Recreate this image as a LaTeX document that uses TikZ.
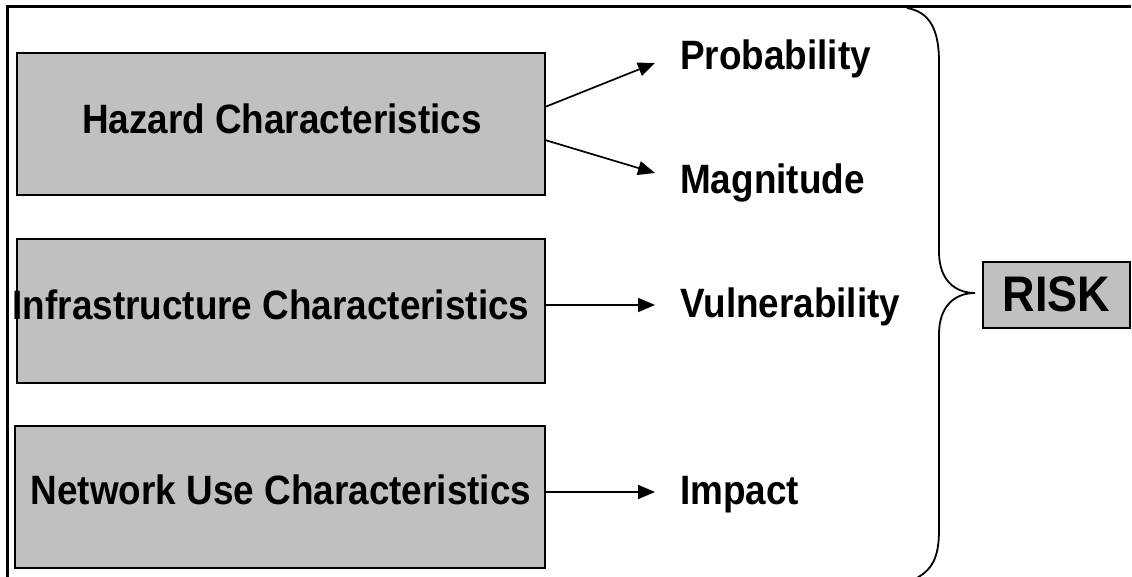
\documentclass[tikz,border=0pt]{standalone}
\usepackage{fontspec}
\setmainfont{Liberation Sans}[FakeStretch=0.9]
\usetikzlibrary{arrows.meta,calc}
\definecolor{boxgray}{HTML}{C0C0C0}
\begin{document}
\begin{tikzpicture}[x=1pt,y=-1pt,
  factor/.style={draw=black, line width=2.5pt, fill=boxgray, inner sep=0pt, outer sep=0pt},
  lab/.style={font=\fontsize{41}{48}\selectfont\bfseries, inner sep=0pt, anchor=base},
  term/.style={lab, anchor=base west},
  link/.style={line width=1.7pt, -{Triangle[length=17pt,width=14pt]}},
  brace/.style={line width=1.8pt}
]
\useasboundingbox (0,0) rectangle (1132,577);

% open frame (top and left edges)
\draw[line width=3pt] (7,577) -- (7,7) -- (1131,7);

% factor boxes
\node[factor, minimum width=528pt, minimum height=142pt] (haz) at (281,124) {};
\node[factor, minimum width=528pt, minimum height=144pt] (inf) at (281,311) {};
\node[factor, minimum width=530pt, minimum height=142pt] (net) at (280,497) {};

\node[lab] (hazt) at (282,134) {Hazard Characteristics};
\node[lab] (inft) at (271,319) {Infrastructure Characteristics};
\node[lab] (nett) at (281,504) {Network Use Characteristics};

% risk components
\node[term] (prob) at (680,70) {Probability};
\node[term] (magn) at (680,194) {Magnitude};
\node[term] (vuln) at (680,317) {Vulnerability};
\node[term] (imp)  at (680,504) {Impact};

% arrows
\coordinate (p1) at ($(haz.north east)+(0,54)$);
\coordinate (p2) at ($(haz.north east)+(0,87)$);
\coordinate (t1) at (655,63);
\coordinate (t2) at (655,173);
\coordinate (t3) at (655,305);
\coordinate (t4) at (655,492);
\draw[link] (p1) -- (t1);
\draw[link] (p2) -- (t2);
\draw[link] (inf.east |- t3) -- (t3);
\draw[link] (net.east |- t4) -- (t4);

% brace
\draw[brace] (907,8) .. controls (930,12) and (939,30) .. (939,62)
  -- (939,252) .. controls (939,280) and (955,293) .. (975,293)
  .. controls (955,293) and (939,306) .. (939,334)
  -- (939,530) .. controls (939,558) and (932,570) .. (915,579);

% result
\node[factor, minimum width=147pt, minimum height=66pt] (risk) at (1056.5,295) {};
\node[lab, font=\fontsize{50}{58}\selectfont\bfseries] (riskt) at (1056.5,311) {RISK};
\end{tikzpicture}
\end{document}
